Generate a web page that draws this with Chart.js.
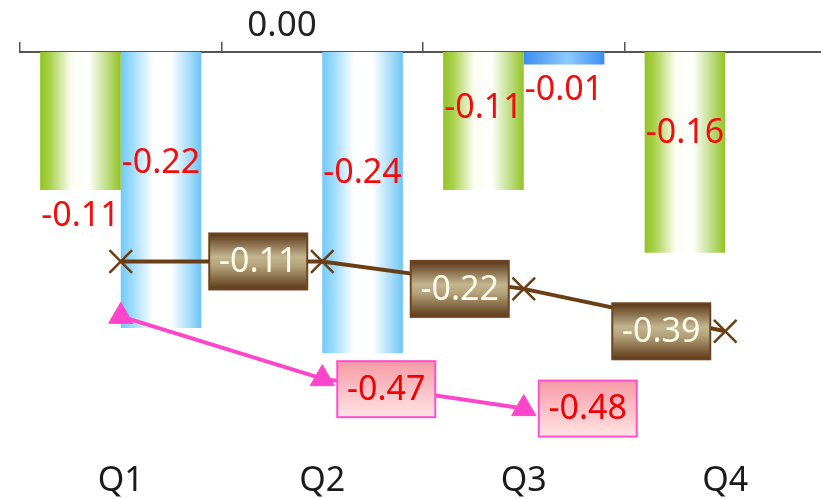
<!DOCTYPE html>
<html>
<head>
<meta charset="utf-8">
<script src="https://cdn.jsdelivr.net/npm/chart.js@4.4.1/dist/chart.umd.min.js"></script>
<style>
  html, body { margin: 0; padding: 0; background: #fff; overflow: hidden; }
  #chart { display: block; width: 830px; height: 499px; }
</style>
</head>
<body>
<canvas id="chart" width="830" height="499"></canvas>
<script>
// Quarterly figures
const quarters = ['Q1', 'Q2', 'Q3', 'Q4'];
const greenSeries = [-0.11, null, -0.11, -0.16];
const blueSeries = [-0.22, -0.24, -0.01, null];
const brownSeries = [-0.11, -0.11, -0.22, -0.39];
const pinkSeries = [-0.22, -0.47, -0.48, null];
const zeroTickLabel = '0.00';

const FONT = '"Noto Sans", "Open Sans", sans-serif';

// Horizontal "cylinder" shading for the bars, built across each bar's width.
function barFill(stops, shortStops, side) {
  return (context) => {
    const chart = context.chart;
    const x = chart.scales.x;
    if (!x || context.dataIndex === undefined || !isFinite(x.width) || x.width <= 0) {
      return stops[0][1];
    }
    const centre = x.getPixelForValue(context.dataIndex);
    const w = (x.width / quarters.length) * 0.4;
    const left = side < 0 ? centre - w : centre;
    const v = context.raw;
    const useStops = (v !== null && v !== undefined && Math.abs(v) < 0.05) ? shortStops : stops;
    const g = chart.ctx.createLinearGradient(left, 0, left + w, 0);
    useStops.forEach(([o, c]) => g.addColorStop(o, c));
    return g;
  };
}

const greenStops = [[0, '#93c424'], [0.12, '#a9d04a'], [0.38, '#fbfdf1'], [0.6, '#ffffff'], [0.85, '#b9d97a'], [1, '#93c424']];
const blueStops = [[0, '#72cafa'], [0.15, '#a0dcfb'], [0.4, '#ffffff'], [0.62, '#ffffff'], [0.88, '#9cd8f8'], [1, '#6cc6f7']];
const blueShortStops = [[0, '#3b8ef0'], [0.55, '#8fcafb'], [1, '#3b8ef0']];

// Keep the category axes flush with the plot edges (no extra label padding).
function noEdgePadding(scale) {
  scale.paddingLeft = 0;
  scale.paddingRight = 0;
}

// Rectangles of all drawn bars, used to keep line labels clear of them.
function barRects(chart) {
  const rects = [];
  chart.data.datasets.forEach((ds, di) => {
    const meta = chart.getDatasetMeta(di);
    if (meta.type !== 'bar') return;
    meta.data.forEach((el, i) => {
      if (ds.data[i] === null || ds.data[i] === undefined) return;
      const p = el.getProps(['x', 'y', 'base', 'width'], true);
      rects.push({
        left: p.x - p.width / 2, right: p.x + p.width / 2,
        top: Math.min(p.y, p.base), bottom: Math.max(p.y, p.base)
      });
    });
  });
  return rects;
}

// Value labels: plain red text for bars, framed boxes for the lines.
const valueLabels = {
  id: 'valueLabels',
  afterDatasetsDraw(chart) {
    const ctx = chart.ctx;
    const bars = barRects(chart);
    ctx.save();
    chart.data.datasets.forEach((ds, di) => {
      const lab = ds.valueLabel;
      if (!lab) return;
      const meta = chart.getDatasetMeta(di);
      meta.data.forEach((el, i) => {
        const v = ds.data[i];
        if (v === null || v === undefined) return;
        const text = v.toFixed(2);
        ctx.font = '34px ' + FONT;
        ctx.textAlign = 'center';
        ctx.textBaseline = 'middle';
        if (lab.kind === 'bar') {
          const place = lab.places[i];
          const cy = place === 'end' ? el.y + 25 : el.base + 0.4 * (el.y - el.base);
          ctx.fillStyle = lab.color;
          ctx.fillText(text, el.x, cy + 1);
        } else {
          if (i < lab.from) return;
          const w = 98, h = 56, gap = 15;
          const left = lab.side < 0 ? el.x - gap - w : el.x + gap;
          let top = el.y - h / 2;
          // slide the box below any bar it would sit on
          bars.forEach((r) => {
            if (left < r.right && left + w > r.left && top < r.bottom && top + h > r.top) {
              top = r.bottom + 8;
            }
          });
          const g = ctx.createLinearGradient(0, top, 0, top + h);
          lab.fill.forEach(([o, c]) => g.addColorStop(o, c));
          ctx.fillStyle = g;
          ctx.fillRect(left, top, w, h);
          ctx.lineWidth = 2;
          ctx.strokeStyle = lab.border;
          ctx.strokeRect(left, top, w, h);
          ctx.fillStyle = lab.color;
          ctx.fillText(text, left + w / 2, top + h / 2 + 1);
        }
      });
    });
    ctx.restore();
  },
  afterDraw(chart) {
    const ctx = chart.ctx;
    const x = chart.scales.x2;
    ctx.save();
    ctx.font = '35px ' + FONT;
    ctx.fillStyle = '#222';
    ctx.textAlign = 'center';
    ctx.textBaseline = 'middle';
    const band = x.width / quarters.length;
    ctx.fillText(zeroTickLabel, x.getPixelForValue(1) - 0.2 * band, 26);
    ctx.restore();
  }
};

new Chart(document.getElementById('chart'), {
  type: 'bar',
  data: {
    labels: quarters,
    datasets: [
      {
        type: 'line',
        label: 'Brown',
        data: brownSeries,
        yAxisID: 'y2',
        order: 1,
        borderColor: '#6b3f16',
        borderWidth: 4,
        tension: 0,
        pointStyle: 'crossRot',
        pointRadius: 16,
        pointBorderWidth: 2.5,
        pointBorderColor: '#6b3f16',
        pointBackgroundColor: '#6b3f16',
        valueLabel: {
          kind: 'box', side: -1, from: 1, color: '#fffbea', border: '#6e4522',
          fill: [[0, '#5a3617'], [0.42, '#c3b58f'], [0.58, '#b3a27a'], [1, '#5e3a19']]
        }
      },
      {
        type: 'line',
        label: 'Pink',
        data: pinkSeries,
        yAxisID: 'y2',
        order: 1,
        borderColor: '#ff45c9',
        borderWidth: 4,
        tension: 0,
        pointStyle: 'triangle',
        pointRadius: 14,
        pointBorderWidth: 1,
        pointBorderColor: '#ff45c9',
        pointBackgroundColor: '#ff45c9',
        valueLabel: {
          kind: 'box', side: 1, from: 1, color: '#f00000', border: '#ff50d0',
          fill: [[0, '#f79aa6'], [1, '#ffe4e4']]
        }
      },
      {
        label: 'Green',
        data: greenSeries,
        yAxisID: 'y',
        order: 2,
        backgroundColor: barFill(greenStops, greenStops, -1),
        borderWidth: 0,
        categoryPercentage: 0.8,
        barPercentage: 1,
        valueLabel: { kind: 'bar', color: '#f20d0d', places: ['end', 'mid', 'mid', 'mid'] }
      },
      {
        label: 'Blue',
        data: blueSeries,
        yAxisID: 'y',
        order: 2,
        backgroundColor: barFill(blueStops, blueShortStops, 1),
        borderWidth: 0,
        categoryPercentage: 0.8,
        barPercentage: 1,
        valueLabel: { kind: 'bar', color: '#f20d0d', places: ['mid', 'mid', 'end', 'mid'] }
      }
    ]
  },
  options: {
    responsive: false,
    animation: false,
    devicePixelRatio: 1,
    layout: { autoPadding: false, padding: { left: 20, right: 4, top: 42, bottom: 0 } },
    plugins: { legend: { display: false }, tooltip: { enabled: false } },
    scales: {
      x: {
        position: 'bottom',
        offset: true,
        grid: { display: false, drawTicks: false },
        border: { display: false },
        ticks: { font: { family: FONT, size: 34 }, color: '#1a1a1a', padding: 20, maxRotation: 0 },
        afterFit(scale) { scale.height = 58; noEdgePadding(scale); }
      },
      x2: {
        type: 'category',
        labels: quarters,
        position: 'top',
        offset: true,
        grid: { display: true, offset: true, drawOnChartArea: false, drawTicks: true, tickLength: 10, color: '#555', lineWidth: 1.5 },
        border: { display: true, color: '#555', width: 2 },
        ticks: { display: false },
        afterFit(scale) { scale.height = 10; noEdgePadding(scale); }
      },
      y: { display: false, min: -0.31, max: 0 },
      y2: { display: false, stacked: true, min: -0.83, max: 0.73 }
    }
  },
  plugins: [valueLabels]
});
</script>
</body>
</html>
